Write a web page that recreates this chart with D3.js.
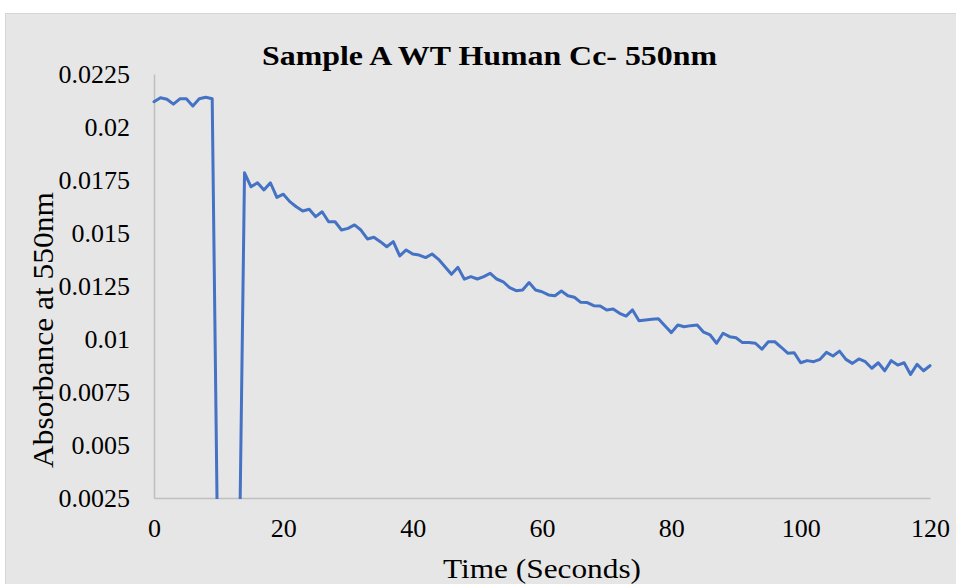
<!DOCTYPE html>
<html>
<head>
<meta charset="utf-8">
<script src="https://cdn.jsdelivr.net/npm/d3@7"></script>
<style>
  html, body { margin: 0; padding: 0; background: #ffffff; }
  svg { display: block; }
  text { font-family: "Times New Roman", Times, "Liberation Serif", serif; fill: #000; }
</style>
</head>
<body>
<svg id="chart" width="956" height="584"></svg>
<script>
// ---- data ----
const title = "Sample A WT Human Cc- 550nm";
const xTitle = "Time (Seconds)";
const yTitle = "Absorbance at 550nm";
const xTicks = [0, 20, 40, 60, 80, 100, 120];
const yTicks = [0.0025, 0.005, 0.0075, 0.01, 0.0125, 0.015, 0.0175, 0.02, 0.0225];
const yTickLabels = ["0.0025", "0.005", "0.0075", "0.01", "0.0125", "0.015", "0.0175", "0.02", "0.0225"];
const times = d3.range(0, 121); // one reading per second, 0..120 s
const absorbance = [
  0.02119, 0.02138, 0.02131, 0.02108, 0.02133, 0.02133, 0.02099, 0.02133, 0.02140, 0.02133,
  -0.0040, -0.0050, -0.0050, -0.0050, 0.01784, 0.01718, 0.01737, 0.01703, 0.01737, 0.01668,
  0.01683, 0.01648, 0.01624, 0.01604, 0.01612, 0.01577, 0.01600, 0.01553, 0.01553, 0.01514,
  0.01522, 0.01538, 0.01514, 0.01472, 0.01480, 0.01459, 0.01435, 0.01459, 0.01392, 0.01420,
  0.01401, 0.01396, 0.01384, 0.01401, 0.01376, 0.01341, 0.01305, 0.01338, 0.01282, 0.01294,
  0.01283, 0.01294, 0.01310, 0.01283, 0.01270, 0.01242, 0.01228, 0.01231, 0.01266, 0.01231,
  0.01223, 0.01208, 0.01204, 0.01226, 0.01204, 0.01197, 0.01173, 0.01172, 0.01157, 0.01156,
  0.01137, 0.01141, 0.01121, 0.01108, 0.01137, 0.01086, 0.01090, 0.01093, 0.01096, 0.01063,
  0.01030, 0.01066, 0.01058, 0.01063, 0.01066, 0.01032, 0.01019, 0.00980, 0.01027, 0.01011,
  0.01006, 0.00983, 0.00984, 0.00980, 0.00952, 0.00987, 0.00987, 0.00961, 0.00933, 0.00935,
  0.00888, 0.00898, 0.00893, 0.00904, 0.00937, 0.00920, 0.00943, 0.00904, 0.00885, 0.00906,
  0.00893, 0.00862, 0.00888, 0.00850, 0.00898, 0.00877, 0.00888, 0.00833, 0.00881, 0.00850,
  0.00874
];

// ---- layout ----
const W = 956, H = 584;
const plot = { left: 154, right: 930, top: 74, bottom: 498 };
const serif = "'Times New Roman', Times, 'Liberation Serif', serif";

const svg = d3.select("#chart");

// chart area background
svg.append("rect")
  .attr("x", 5.5).attr("y", 13.5)
  .attr("width", W - 5).attr("height", H - 13)
  .attr("fill", "#e7e6e6")
  .attr("stroke", "#d6d6d6").attr("stroke-width", 1);

const x = d3.scaleLinear().domain([0, 120]).range([plot.left, plot.right]);
const y = d3.scaleLinear().domain([0.0025, 0.0225]).range([plot.bottom, plot.top]);

// axes
const xAxis = d3.axisBottom(x).tickValues(xTicks).tickSize(0).tickPadding(21).tickFormat(d3.format("d"));
const yAxis = d3.axisLeft(y).tickValues(yTicks).tickSize(0).tickPadding(24)
  .tickFormat((d, i) => yTickLabels[i]);

const gx = svg.append("g").attr("transform", `translate(0,${plot.bottom})`).call(xAxis);
const gy = svg.append("g").attr("transform", `translate(${plot.left},0)`).call(yAxis);

[gx, gy].forEach(g => {
  g.attr("font-family", serif).attr("font-size", 26);
  g.select(".domain").attr("stroke", "#bfbfbf").attr("stroke-width", 1.5);
  g.selectAll("text")
    .style("font-family", serif)
    .style("font-size", "26px")
    .attr("fill", "#000");
});
gy.selectAll("text").attr("dy", "0.33em");
gx.selectAll("text").attr("dy", "0.71em");

// clip to plot area
svg.append("clipPath").attr("id", "plotClip")
  .append("rect")
  .attr("x", plot.left - 2).attr("y", plot.top - 10)
  .attr("width", plot.right - plot.left + 6)
  .attr("height", plot.bottom - plot.top + 11);

const line = d3.line()
  .x((d, i) => x(times[i]))
  .y(d => y(d));

svg.append("path")
  .datum(absorbance)
  .attr("clip-path", "url(#plotClip)")
  .attr("fill", "none")
  .attr("stroke", "#4472c4")
  .attr("stroke-width", 3)
  .attr("stroke-linejoin", "round")
  .attr("stroke-linecap", "round")
  .attr("d", line);

// titles
svg.append("text")
  .attr("x", 489.5).attr("y", 65)
  .attr("text-anchor", "middle")
  .style("font-family", serif)
  .attr("font-size", 28).attr("font-weight", "bold")
  .attr("textLength", 455).attr("lengthAdjust", "spacingAndGlyphs")
  .text(title);

svg.append("text")
  .attr("x", (plot.left + plot.right) / 2).attr("y", 578)
  .attr("text-anchor", "middle")
  .style("font-family", serif)
  .attr("font-size", 28)
  .attr("textLength", 198).attr("lengthAdjust", "spacingAndGlyphs")
  .text(xTitle);

svg.append("text")
  .attr("transform", `translate(53,330) rotate(-90)`)
  .attr("text-anchor", "middle")
  .style("font-family", serif)
  .attr("font-size", 29)
  .attr("textLength", 276).attr("lengthAdjust", "spacingAndGlyphs")
  .text(yTitle);
</script>
</body>
</html>
